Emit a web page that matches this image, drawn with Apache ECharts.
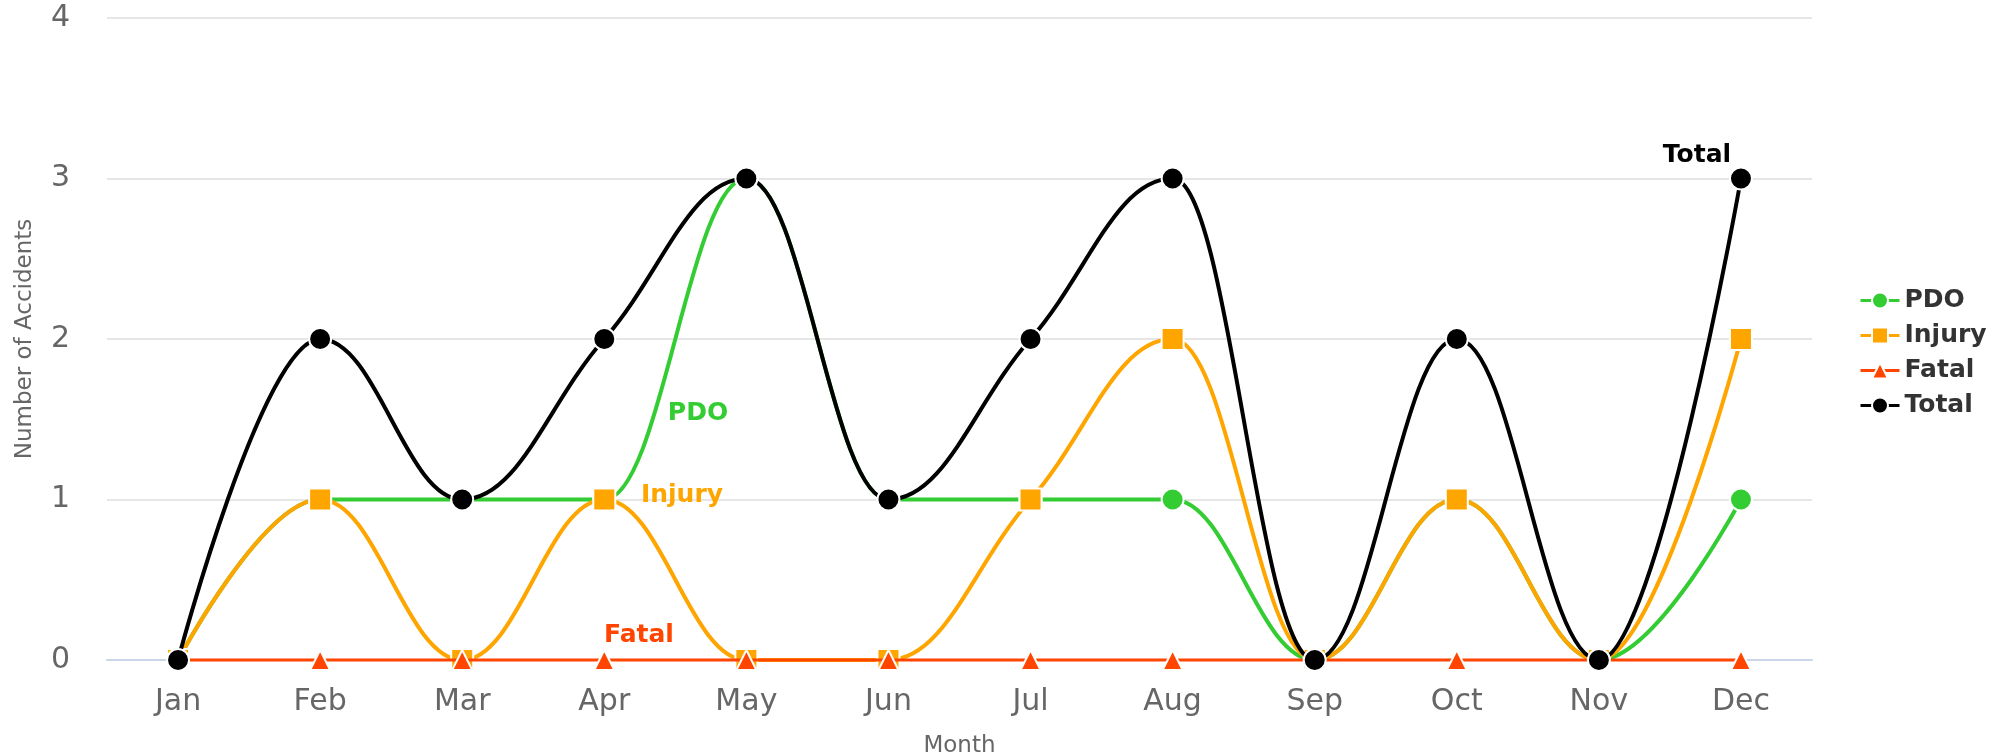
<!DOCTYPE html>
<html><head><meta charset="utf-8">
<script src="https://cdn.jsdelivr.net/npm/echarts@6/dist/echarts.min.js"></script>
<style>html,body{margin:0;padding:0;background:#fff}#c{width:2006px;height:756px}</style>
</head><body><div id="c"></div>
<script>
const months = ['Jan','Feb','Mar','Apr','May','Jun','Jul','Aug','Sep','Oct','Nov','Dec'];
const pdo    = [0,1,1,1,3,1,1,1,0,1,0,1];
const injury = [0,1,0,1,0,0,1,2,0,1,0,2];
const fatal  = [0,0,0,0,0,0,0,0,0,0,0,0];
const total  = [0,2,1,2,3,1,2,3,0,2,0,3];
const yTicks = [0,1,2,3,4];

const FONT = 'DejaVu Sans';
const chart = echarts.init(document.getElementById('c'), null, {renderer:'canvas'});

// Spline path (smoothing 1.5, no false extremes) through points given by the axes
function splinePath(pts){
  const sm = 1.5, den = sm + 1;
  let d = 'M' + pts[0][0] + ' ' + pts[0][1];
  const rc = [];
  for (let i = 0; i < pts.length; i++){
    const [x, y] = pts[i];
    let lcx = x, lcy = y, rcx = x, rcy = y;
    if (i > 0 && i < pts.length - 1){
      const [lx, ly] = pts[i-1], [nx, ny] = pts[i+1];
      lcx = (sm*x + lx)/den; lcy = (sm*y + ly)/den;
      rcx = (sm*x + nx)/den; rcy = (sm*y + ny)/den;
      let corr = 0;
      if (rcx !== lcx) corr = ((rcy - lcy)*(rcx - x))/(rcx - lcx) + y - rcy;
      lcy += corr; rcy += corr;
      if (lcy > ly && lcy > y){ lcy = Math.max(ly, y); rcy = 2*y - lcy; }
      else if (lcy < ly && lcy < y){ lcy = Math.min(ly, y); rcy = 2*y - lcy; }
      if (rcy > ny && rcy > y){ rcy = Math.max(ny, y); lcy = 2*y - rcy; }
      else if (rcy < ny && rcy < y){ rcy = Math.min(ny, y); lcy = 2*y - rcy; }
    }
    rc[i] = [rcx, rcy];
    if (i > 0){
      d += ' C' + rc[i-1][0] + ' ' + rc[i-1][1] + ' ' + lcx + ' ' + lcy + ' ' + x + ' ' + y;
    }
  }
  return d;
}

function curve(name, arr, color, width, z){
  return {
    name: name + '_curve', type:'custom', z, silent:true,
    data:[[0, arr[0]]],
    renderItem(params, api){
      const pts = arr.map((v, i) => api.coord([i, v]));
      return {type:'path', shape:{pathData: splinePath(pts)},
        style:{fill:null, stroke:color, lineWidth:width, lineJoin:'round', lineCap:'round'}};
    }
  };
}
function marks(name, arr, color, symbol, z){
  return {
    name, type:'line', data:arr, z, showAllSymbol:true,
    symbol, symbolSize: symbol === 'triangle' ? 20 : 22,
    lineStyle:{color, width:0, opacity:0},
    itemStyle:{color, borderColor:'#fff', borderWidth:2},
    emphasis:{disabled:true}
  };
}
const colors = {PDO:'#33cc33', Injury:'#ffa500', Fatal:'#ff4500', Total:'#000000'};

chart.setOption({
  animation:false,
  textStyle:{fontFamily:FONT},
  grid:{left:107, right:194, top:18, bottom:96, containLabel:false, outerBoundsMode:'none'},
  legend:{
    orient:'vertical', left:1854, top:283,
    itemWidth:39, itemHeight:20, itemGap:10,
    textStyle:{fontSize:25, fontWeight:'bold', color:'#333', fontFamily:FONT},
    data:['PDO','Injury','Fatal','Total'].map(n => ({
      name:n, lineStyle:{color:colors[n], width:3, opacity:1}
    }))
  },
  xAxis:{
    type:'category', data:months, boundaryGap:true,
    name:'Month', nameLocation:'middle', nameGap:75,
    nameTextStyle:{fontSize:23, color:'#666', fontFamily:FONT},
    axisLine:{lineStyle:{color:'#ccd6eb', width:2}},
    axisTick:{show:false},
    axisLabel:{fontSize:30, color:'#666', margin:27, fontFamily:FONT}
  },
  yAxis:{
    type:'value', min:yTicks[0], max:yTicks[yTicks.length-1], interval:1,
    name:'Number of Accidents', nameLocation:'middle', nameGap:70,
    nameTextStyle:{fontSize:23, color:'#666', fontFamily:FONT},
    axisLine:{show:false}, axisTick:{show:false},
    splitLine:{lineStyle:{color:'#e6e6e6', width:2}},
    axisLabel:{fontSize:30, color:'#666', margin:37, fontFamily:FONT}
  },
  series:[
    curve('PDO', pdo, colors.PDO, 4, 2),
    marks('PDO', pdo, colors.PDO, 'circle', 3),
    curve('Injury', injury, colors.Injury, 4, 4),
    marks('Injury', injury, colors.Injury, 'rect', 5),
    curve('Fatal', fatal, colors.Fatal, 3, 6),
    marks('Fatal', fatal, colors.Fatal, 'triangle', 7),
    curve('Total', total, colors.Total, 4, 8),
    marks('Total', total, colors.Total, 'circle', 9)
  ],
  graphic:[
    {type:'text', x:698, y:413, z:20, style:{text:'PDO', fill:colors.PDO, font:'bold 25px "DejaVu Sans"', align:'center', verticalAlign:'middle'}},
    {type:'text', x:682, y:495, z:20, style:{text:'Injury', fill:colors.Injury, font:'bold 25px "DejaVu Sans"', align:'center', verticalAlign:'middle'}},
    {type:'text', x:639, y:635, z:20, style:{text:'Fatal', fill:colors.Fatal, font:'bold 25px "DejaVu Sans"', align:'center', verticalAlign:'middle'}},
    {type:'text', x:1697, y:155, z:20, style:{text:'Total', fill:colors.Total, font:'bold 25px "DejaVu Sans"', align:'center', verticalAlign:'middle'}}
  ]
});
</script></body></html>
